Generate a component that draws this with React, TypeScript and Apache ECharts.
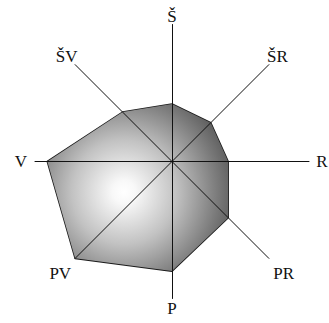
import React, { useEffect, useRef } from "react";
import * as echarts from "echarts";

// Directions, counter-clockwise from the top (north)
const directions = ["Š", "ŠV", "V", "PV", "P", "PR", "R", "ŠR"];
// Values (scale 0–100)
const values = [42, 51, 91, 100, 80, 58, 41, 40];
const maxValue = 100;

const W = 329;
const H = 323;
const CX = 172;
const CY = 161.5;
const RADIUS = 137;
// label distance from centre, per direction (layout only)
const labelDist = [145, 149, 151, 158, 147, 158, 150, 149];

export default function App() {
  const ref = useRef<HTMLDivElement>(null);
  useEffect(() => {
    if (!ref.current) return;
    const chart = echarts.init(ref.current, undefined, { renderer: "svg" });
    const n = directions.length;
    const labels = directions.map((name, i) => {
      const a = Math.PI / 2 + (i * 2 * Math.PI) / n;
      const d = labelDist[i];
      return {
        type: "text",
        x: CX + d * Math.cos(a),
        y: CY - d * Math.sin(a),
        silent: true,
        style: {
          text: name,
          fontFamily: "'Liberation Serif', 'Times New Roman', serif",
          fontSize: 17,
          fill: "#111",
          align: "center",
          verticalAlign: "middle",
        },
      };
    });
    chart.setOption({
      animation: false,
      backgroundColor: "#fff",
      radar: {
        z: 5,
        center: [CX, CY],
        radius: RADIUS,
        startAngle: 90,
        shape: "polygon",
        splitNumber: 1,
        indicator: directions.map((name) => ({ name, min: 0, max: maxValue })),
        axisName: { show: false },
        axisLine: { show: true, lineStyle: { color: "#111", width: 1 } },
        axisTick: { show: false },
        axisLabel: { show: false },
        splitLine: { show: false },
        splitArea: { show: false },
      },
      series: [
        {
          type: "radar",
          z: 2,
          symbol: "none",
          lineStyle: { color: "#1a1a1a", width: 1.6 },
          areaStyle: {
            opacity: 1,
            color: {
              type: "radial",
              x: 124,
              y: 192,
              r: 116,
              global: true,
              colorStops: [
                { offset: 0, color: "#ffffff" },
                { offset: 0.1, color: "#f8f8f8" },
                { offset: 0.45, color: "#c2c2c2" },
                { offset: 0.8, color: "#7c7c7c" },
                { offset: 1, color: "#565656" },
              ],
            },
          },
          data: [{ value: values, name: "vietor" }],
        },
      ],
      graphic: labels,
    });
    return () => chart.dispose();
  }, []);
  return (
    <div
      ref={ref}
      style={{ position: "absolute", left: 0, top: 0, width: W, height: H, background: "#fff" }}
    />
  );
}
